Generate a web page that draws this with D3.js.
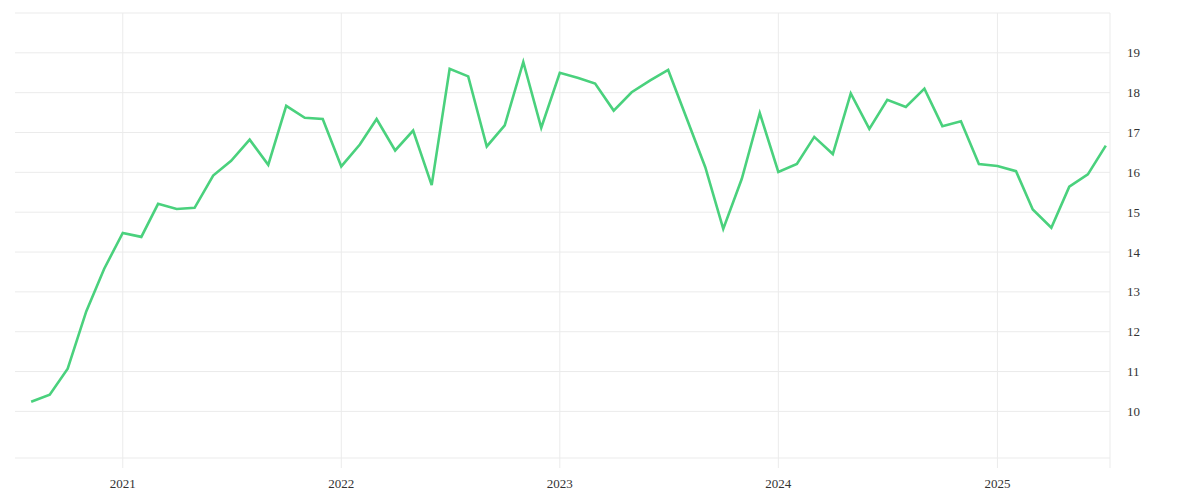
<!DOCTYPE html>
<html>
<script src="https://d3js.org/d3.v7.min.js"></script>

<head>
    <style>
        body {
            margin: 0;
            background-color: #ffffff;
        }

        svg {
            display: block;
        }
    </style>
</head>

<body>
</body>
<script>
    const width = 1200,
        height = 500;
    const margin = { top: 13, right: 90, bottom: 42, left: 15 };

    // monthly values, Aug 2020 .. Jul 2025
    const startMonth = "2020-08";
    const values = [
        10.24, 10.42, 11.07, 12.51, 13.58,
        14.48, 14.38, 15.21, 15.08, 15.11, 15.92, 16.29, 16.82, 16.19, 17.67, 17.37, 17.34,
        16.15, 16.70, 17.34, 16.55, 17.05, 15.68, 18.60, 18.41, 16.65, 17.18, 18.77, 17.12,
        18.50, 18.37, 18.23, 17.55, 18.01, 18.31, 18.57, 17.35, 16.13, 14.58, 15.84, 17.49,
        16.01, 16.21, 16.89, 16.46, 17.98, 17.09, 17.82, 17.64, 18.10, 17.16, 17.28, 16.21,
        16.16, 16.03, 15.07, 14.61, 15.64, 15.95, 16.67
    ];
    const yTicks = [10, 11, 12, 13, 14, 15, 16, 17, 18, 19];
    const yearTicks = ["2021", "2022", "2023", "2024", "2025"];
    const xDomain = ["2020-07-05", "2025-07-08"];
    const yDomain = [8.83, 20];

    const parseMonth = d3.timeParse("%Y-%m");
    const parseDay = d3.timeParse("%Y-%m-%d");
    const parseYear = d3.timeParse("%Y");
    const start = parseMonth(startMonth);
    const data = values.map((v, i) => ({ date: d3.timeMonth.offset(start, i), value: v }));

    const svg = d3.select("body").append("svg").attr("width", width).attr("height", height);

    const x = d3.scaleTime()
        .domain(xDomain.map(parseDay))
        .range([margin.left, width - margin.right]);
    const y = d3.scaleLinear()
        .domain(yDomain)
        .range([height - margin.bottom, margin.top]);

    const grid = "#ebebeb";
    const tickBottom = height - margin.bottom + 10;

    // horizontal grid, incl. top/bottom borders
    svg.append("g")
        .selectAll("line")
        .data(yTicks.concat(yDomain))
        .join("line")
        .attr("x1", margin.left)
        .attr("x2", width - margin.right)
        .attr("y1", d => y(d))
        .attr("y2", d => y(d))
        .attr("stroke", grid)
        .attr("stroke-width", 1);

    // vertical grid at years + right edge
    const xLines = yearTicks.map(parseYear).concat([x.domain()[1]]);
    svg.append("g")
        .selectAll("line")
        .data(xLines)
        .join("line")
        .attr("x1", d => x(d))
        .attr("x2", d => x(d))
        .attr("y1", margin.top)
        .attr("y2", tickBottom)
        .attr("stroke", grid)
        .attr("stroke-width", 1);

    const line = d3.line()
        .x(d => x(d.date))
        .y(d => y(d.value));

    svg.append("path")
        .datum(data)
        .attr("fill", "none")
        .attr("stroke", "#4ad17d")
        .attr("stroke-width", 2.6)
        .attr("stroke-linejoin", "miter")
        .attr("d", line);

    // right axis labels
    svg.append("g")
        .selectAll("text")
        .data(yTicks)
        .join("text")
        .attr("x", width - margin.right + 17)
        .attr("y", d => y(d))
        .attr("dy", "0.35em")
        .attr("font-family", "Liberation Serif, serif")
        .attr("font-size", 13)
        .attr("fill", "#333")
        .text(d => d);

    // year labels
    svg.append("g")
        .selectAll("text")
        .data(yearTicks)
        .join("text")
        .attr("x", d => x(parseYear(d)))
        .attr("y", tickBottom + 15)
        .attr("dy", "0.35em")
        .attr("text-anchor", "middle")
        .attr("font-family", "Liberation Serif, serif")
        .attr("font-size", 13)
        .attr("fill", "#333")
        .text(d => d);
</script>

</html>
